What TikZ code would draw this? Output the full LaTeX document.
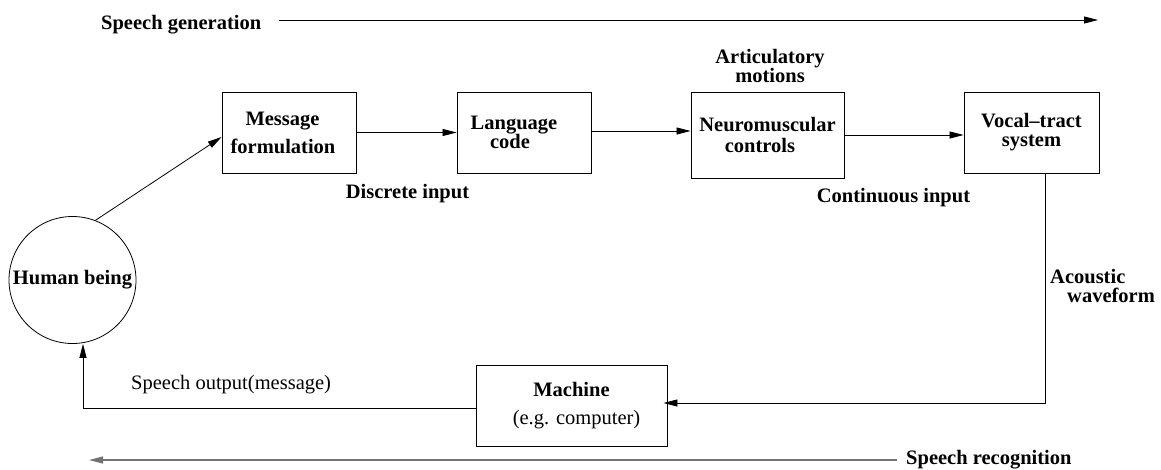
\documentclass[tikz,border=0pt]{standalone}
\usepackage{fontspec}
\setmainfont{Liberation Serif}
\usetikzlibrary{arrows.meta,calc}
\tikzset{
  every node/.style={font=\fontsize{20.5}{20}\selectfont},
  blk/.style={draw, line width=0.9pt, rectangle, inner sep=0pt, align=center, font=\fontsize{20.5}{20}\selectfont\bfseries},
  lbl/.style={inner sep=0pt, align=center, font=\fontsize{20.5}{20}\selectfont\bfseries},
  plain/.style={inner sep=0pt, align=center, font=\fontsize{20.5}{20}\selectfont},
  arr/.style={line width=0.8pt, -{Triangle[length=14pt,width=7pt]}},
  wire/.style={line width=0.8pt},
}
\begin{document}
\begin{tikzpicture}[x=1pt,y=-1pt]
\useasboundingbox (0,0) rectangle (1161,469);

% top: speech generation
\node[lbl, anchor=base west] (sg) at (101,29) {Speech generation};
\coordinate (sga) at (279,20);
\coordinate (sgb) at (1098,20);
\draw[arr] (sga) -- (sgb);

% blocks
\node[blk, minimum width=134pt, minimum height=81pt] (mf) at (289,132.5) {Message\hspace*{13pt}\\[8pt]formulation\hspace*{12pt}};
\node[blk, minimum width=134pt, minimum height=81pt] (lc) at (524,132.5) {Language\hspace*{20pt}\\[-1pt]code\hspace*{28pt}};
\node[blk, minimum width=153pt, minimum height=86pt] (nc) at (767.5,135) {Neuromuscular\\[1pt]controls\hspace*{15pt}};
\node[blk, minimum width=135pt, minimum height=81pt] (vt) at (1031.5,132.5) {\raisebox{2pt}{Vocal--tract}\\[-1pt]\raisebox{2pt}{system}};
\node[blk, minimum width=191pt, minimum height=81pt] (mc) at (571.5,405.5) {\raisebox{3pt}{Machine}\\[5pt]\mdseries\hspace*{10pt}(e.g. computer)};
\node[draw, circle, line width=0.8pt, minimum size=127pt, inner sep=0pt, font=\fontsize{20.5}{20}\selectfont\bfseries] (hb) at (72.5,280) {Human being};

% labels
\node[lbl, anchor=base] (am) at (770,82) {Articulatory\\[-1pt]motions};
\node[lbl, anchor=base] (di) at (407.5,198) {Discrete input};
\node[lbl, anchor=base] (ci) at (893.5,202) {Continuous input};
\node[lbl, anchor=base west, align=left] (aw) at (1050,302) {Acoustic\\[-1pt]\hspace*{17pt}waveform};
\node[plain, anchor=base west] (so) at (131,389) {Speech output(message)};
\node[lbl, anchor=base west] (sr) at (906,464) {Speech recognition};

% connectors
\draw[arr] (hb.69) -- ($(mf.west)+(0,4.5)$);
\draw[arr] (mf.east) -- (lc.west);
\draw[arr] ($(lc.east)+(0,-1.5)$) -- ($(nc.west)+(0,-4)$);
\draw[arr] (nc.east) -- (nc.east -| vt.west);

\coordinate (fb) at (1045,403);
\draw[arr, shorten >=-4pt] (vt.south -| fb) -- (fb) -- (fb -| mc.east);

\coordinate (so1) at (83,408);
\draw[arr] (mc.west |- so1) -- (so1) -- (hb.south -| so1);

% bottom: speech recognition
\coordinate (sra) at (897,460);
\coordinate (srb) at (89,460);
\draw[arr, draw=black!55, fill=black!55, line width=1.3pt] (sra) -- (srb);
\end{tikzpicture}
\end{document}
